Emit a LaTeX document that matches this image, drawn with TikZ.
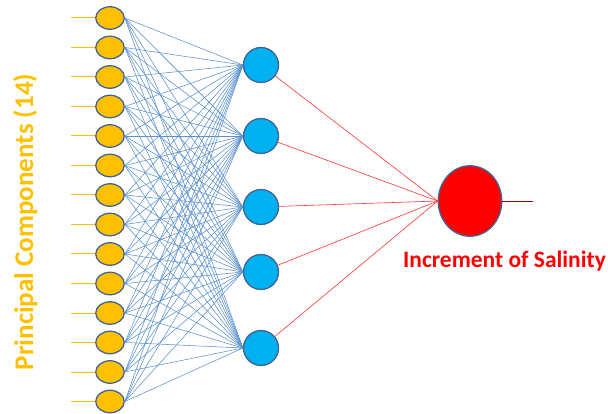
\documentclass[tikz,border=0pt]{standalone}
\usepackage{fontspec}
\setmainfont{Carlito}
\usetikzlibrary{shapes.geometric}
\definecolor{pcgold}{RGB}{255,192,0}
\definecolor{nodeedge}{RGB}{65,100,145}
\definecolor{hidblue}{RGB}{0,176,240}
\definecolor{wire}{RGB}{91,145,205}

\begin{document}
\begin{tikzpicture}[x=1pt,y=-1pt]
	\tikzstyle{input}=[ellipse,draw=nodeedge,line width=1.3pt,fill=pcgold,minimum width=28.5pt,minimum height=22.5pt,inner sep=0pt]
	\tikzstyle{hidden}=[circle,draw=nodeedge,line width=1.3pt,fill=hidblue,minimum size=35pt,inner sep=0pt]
	\tikzstyle{output}=[ellipse,draw=nodeedge,line width=1.3pt,fill=red,minimum width=63.5pt,minimum height=70.5pt,inner sep=0pt]
	\useasboundingbox (0,0) rectangle (608,414);

	% input layer
	\foreach \i in {1,...,14}
	{
	  \node [input] (in\i) at (110,{18+(\i-1)*29.5}) {};
	  \coordinate (feed\i) at (71,{18+(\i-1)*29.5});
	}
	% hidden layer
	\foreach \i/\y in {1/65,2/136,3/207,4/272,5/348}
	  \node [hidden] (hid\i) at (261,\y) {};
	\node [output] (out) at (470,201) {};
	\coordinate (result) at (533,201);

	\node [rotate=90,anchor=base,text=pcgold,font=\fontsize{27}{32}\selectfont\bfseries] (pc_label) at (33,222) {Principal Components (14)};
	\node [anchor=base,text=red,font=\fontsize{23.5}{28}\selectfont\bfseries] (out_label) at (504.5,268) {Increment of Salinity};

	\foreach \i in {1,...,14}
	  \draw [pcgold,line width=1pt](feed\i) -- (in\i);

	\foreach \i in {1,...,14}
	  \foreach \j in {1,...,5}
	    \draw [wire,line width=0.55pt](in\i.east) -- (hid\j.west);

	\foreach \j in {1,...,5}
	  \draw [red!80,line width=0.6pt](hid\j) -- (out.west);

	\draw [red!60!black,line width=0.8pt](out) -- (result);
\end{tikzpicture}
\end{document}
